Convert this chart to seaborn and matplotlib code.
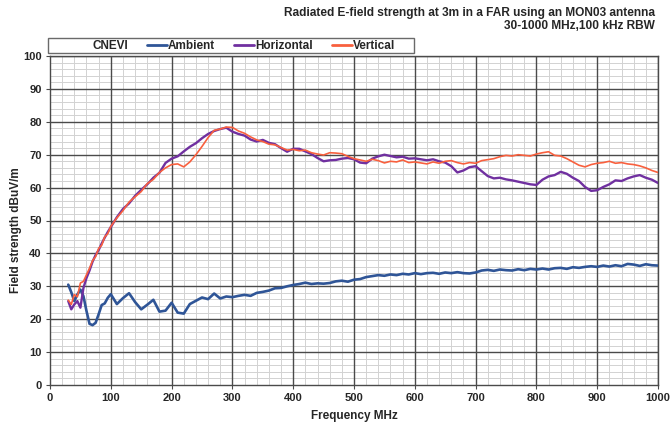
import numpy as np
import pandas as pd
import matplotlib
matplotlib.use("Agg")
import matplotlib.pyplot as plt
from matplotlib.lines import Line2D
from matplotlib.patches import Rectangle
from matplotlib.ticker import MultipleLocator
import seaborn as sns

freq = list(range(30, 100, 5)) + list(range(100, 1001, 10))

ambient = [30.5, 28.2, 25.5, 27.5, 29.0, 27.0, 22.5, 18.6, 18.2, 18.9, 21.5, 24.3, 24.8, 26.5, 27.6,
           24.6, 26.4, 27.9, 25.2, 23.0, 24.4, 25.9, 22.3, 22.6, 25.0, 22.0, 21.7, 24.6, 25.6, 26.6,
           26.1, 27.8, 26.3, 26.9, 26.7, 27.1, 27.4, 27.1, 28.0, 28.3, 28.7, 29.4, 29.5, 30.0, 30.4,
           30.7, 31.1, 30.7, 30.9, 30.8, 31.0, 31.5, 31.7, 31.4, 32.0, 32.2, 32.8, 33.1, 33.4, 33.2,
           33.6, 33.4, 33.8, 33.6, 34.0, 33.7, 34.0, 34.1, 33.8, 34.2, 34.0, 34.3, 34.0, 33.9, 34.2,
           34.8, 35.0, 34.7, 35.1, 34.9, 34.8, 35.2, 34.9, 35.3, 35.1, 35.4, 35.1, 35.5, 35.6, 35.3,
           35.8, 35.6, 35.9, 36.1, 35.9, 36.3, 36.0, 36.4, 36.1, 36.8, 36.6, 36.2, 36.7, 36.4, 36.3]

horizontal = [25.5, 23.0, 24.5, 25.5, 23.5, 29.5, 32.5, 34.8, 37.5, 39.5, 41.0, 43.0, 44.8, 46.5, 48.0,
              51.0, 53.5, 55.2, 57.5, 59.3, 61.0, 63.0, 64.5, 67.5, 68.8, 69.5, 71.0, 72.4, 73.5, 75.0,
              76.3, 77.2, 77.8, 78.2, 77.0, 76.3, 75.8, 74.6, 74.0, 74.5, 73.6, 73.2, 72.0, 70.9, 71.8,
              71.8, 71.0, 70.2, 69.0, 68.0, 68.3, 68.4, 68.8, 69.0, 68.6, 67.6, 67.4, 68.8, 69.5, 70.0,
              69.6, 69.2, 69.4, 68.8, 68.9, 68.6, 68.3, 68.6, 68.0, 67.6, 66.5, 64.6, 65.2, 66.2, 66.5,
              65.0, 63.5, 62.8, 63.0, 62.5, 62.2, 61.8, 61.4, 61.0, 60.8, 62.4, 63.4, 63.8, 64.8, 64.2,
              63.0, 62.0, 60.2, 59.0, 59.2, 60.2, 61.0, 62.2, 62.0, 62.8, 63.4, 63.8, 63.0, 62.4, 61.4]

vertical = [25.8, 24.5, 27.5, 26.8, 31.0, 31.5, 33.5, 35.5, 37.8, 39.0, 41.5, 42.5, 45.0, 46.0, 48.2,
            50.8, 53.0, 55.6, 57.2, 58.8, 61.2, 62.5, 64.6, 66.0, 67.0, 67.2, 66.3, 67.8, 70.0, 72.5,
            75.2, 77.4, 77.8, 78.4, 78.3, 77.2, 76.5, 75.4, 74.5, 74.0, 73.2, 73.0, 72.2, 71.4, 71.6,
            71.2, 71.4, 70.6, 70.2, 69.9, 70.6, 70.5, 70.3, 69.5, 68.8, 68.4, 68.0, 68.6, 68.2, 67.5,
            68.0, 67.8, 68.4, 67.6, 67.8, 67.5, 67.2, 67.8, 67.4, 68.0, 68.2, 67.6, 67.2, 67.6, 67.4,
            68.2, 68.5, 68.8, 69.4, 69.8, 69.6, 70.0, 69.8, 69.6, 70.2, 70.6, 70.9, 69.8, 69.6, 68.8,
            67.8, 66.8, 66.3, 67.0, 67.4, 67.6, 68.0, 67.4, 67.6, 67.2, 67.0, 66.6, 66.0, 65.2, 64.6]

series_names = ["Ambient", "Horizontal", "Vertical"]
series_colors = ["#2f5597", "#7030a0", "#f8603e"]
series_widths = [1.9, 1.7, 1.2]
legend_header = "CNEVI"

title_text = "Radiated E-field strength at 3m in a FAR using an MON03 antenna\n30-1000 MHz,100 kHz RBW"
xlabel = "Frequency MHz"
ylabel = "Field strength dBuV/m"

sns.set_style("white")
plt.rcParams["font.family"] = ["Liberation Sans", "DejaVu Sans"]
plt.rcParams["font.weight"] = "bold"

fig = plt.figure(figsize=(6.72, 4.28), dpi=100)
ax = fig.add_axes([50 / 672, 43 / 428, 608 / 672, 329 / 428])

df = pd.DataFrame({"freq": freq, "Ambient": ambient, "Horizontal": horizontal, "Vertical": vertical})
for i in range(3):
    sns.lineplot(data=df, x="freq", y=series_names[i], ax=ax, color=series_colors[i],
                 linewidth=series_widths[i], zorder=3 + i, legend=False)

ax.set_xlim(0, 1000)
ax.set_ylim(0, 100)
ax.xaxis.set_major_locator(MultipleLocator(100))
ax.xaxis.set_minor_locator(MultipleLocator(20))
ax.yaxis.set_major_locator(MultipleLocator(10))
ax.yaxis.set_minor_locator(MultipleLocator(2))
ax.grid(which="minor", color="#d2d2d2", linewidth=0.7)
ax.grid(which="major", visible=False)
ax.set_axisbelow(True)
for xv in ax.get_xticks():
    if 0 < xv <= 1000:
        ax.axvline(xv, color="#4a4a4a", linewidth=1.0, zorder=1.5)
for yv in ax.get_yticks():
    if 0 < yv <= 100:
        ax.axhline(yv, color="#4a4a4a", linewidth=1.0, zorder=1.5)
for s in ax.spines.values():
    s.set_color("#4a4a4a")
    s.set_linewidth(1.0)
ax.tick_params(which="major", direction="out", length=3, width=0.8, color="#4a4a4a",
               labelsize=8, pad=3, left=True, bottom=True)
ax.tick_params(which="minor", length=0)
for lab in ax.get_xticklabels() + ax.get_yticklabels():
    lab.set_fontweight("bold")
ax.set_xlabel(xlabel, fontsize=8.5, fontweight="bold", labelpad=5)
ax.set_ylabel(ylabel, fontsize=8.5, fontweight="bold")
ax.yaxis.set_label_coords(-0.046, 0.47)

# legend frame (drawn separately so the entries can sit like the original)
fig.patches.append(Rectangle((48 / 672, 1 - 53 / 428), 366 / 672, 15 / 428,
                             transform=fig.transFigure, facecolor="white",
                             edgecolor="#6a6a6a", linewidth=1.0, zorder=0))
handles = [Line2D([], [], color="none")] + [
    Line2D([], [], color=c, linewidth=2) for c in series_colors]
labels = [legend_header] + series_names
leg = fig.legend(handles, labels, loc="center left", ncol=4,
                 bbox_to_anchor=(71 / 672, 1 - 46 / 428),
                 frameon=False, fontsize=8.5, handlelength=1.7,
                 handletextpad=0.1, borderpad=0, borderaxespad=0, columnspacing=1.6)
for t in leg.get_texts():
    t.set_fontweight("bold")

fig.text(655 / 672, 1 - 7 / 428, title_text, ha="right", va="top", fontsize=8.6,
         fontweight="bold", linespacing=1.15)

fig.savefig("out.png", dpi=100, facecolor="white")
